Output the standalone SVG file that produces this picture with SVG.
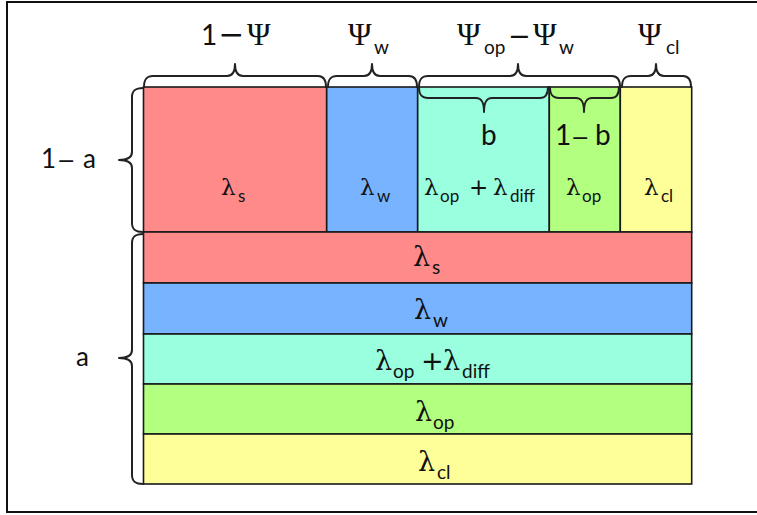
<svg xmlns="http://www.w3.org/2000/svg" width="757" height="515" viewBox="0 0 757 515">
<style>
.cell{stroke:#1a1a1a;stroke-width:1.6}
.red{fill:#FF8A8A}.blue{fill:#77B3FF}.teal{fill:#99FFDF}.green{fill:#B3FF80}.yellow{fill:#FFFF99}
.brace{fill:none;stroke:#222;stroke-width:2;stroke-linecap:round;stroke-linejoin:round}
.sym{font-family:"Liberation Serif","DejaVu Serif",serif;fill:#111}
.lm{font-family:"DejaVu Serif","Liberation Serif",serif;fill:#111}
.op{font-family:"DejaVu Sans","Liberation Sans",sans-serif;fill:#111}
.sans{font-family:Lato,"Liberation Sans",sans-serif;fill:#111}
.big{font-size:28px}.lam{font-size:23px}.lamb{font-size:27px}.psi{font-size:32px}.sub{font-size:19px}.subs{font-size:17px}
</style>
<rect x="7" y="2" width="760" height="510" fill="#fff" stroke="#111" stroke-width="2"/>

<g id="top-s"><rect class="cell red" x="143.5" y="87" width="183.2" height="145"/>
<text class="lm lam" x="221" y="195">λ</text><text class="sans subs" x="238" y="202">s</text></g>
<g id="top-w"><rect class="cell blue" x="326.7" y="87" width="91" height="145"/>
<text class="lm lam" x="360" y="195">λ</text><text class="sans subs" x="377" y="202">w</text></g>
<g id="top-op-diff"><rect class="cell teal" x="417.7" y="87" width="131.6" height="145"/>
<text class="sans big" x="481" y="145">b</text>
<text class="lm lam" x="424" y="195">λ</text><text class="sans subs" x="440" y="202">op</text>
<text class="op lam" x="469" y="195">+</text>
<text class="lm lam" x="493" y="195">λ</text><text class="sans subs" x="510" y="202">diff</text></g>
<g id="top-op"><rect class="cell green" x="549.3" y="87" width="71" height="145"/>
<text class="sans big" x="555" y="145">1</text><text class="op" x="571" y="145" font-size="22">−</text><text class="sans big" x="595" y="145">b</text>
<text class="lm lam" x="566" y="195">λ</text><text class="sans subs" x="582" y="202">op</text></g>
<g id="top-cl"><rect class="cell yellow" x="620.3" y="87" width="71.4" height="145"/>
<text class="lm lam" x="644" y="195">λ</text><text class="sans subs" x="661" y="202">cl</text></g>

<g id="row-s"><rect class="cell red" x="143.5" y="232" width="548.2" height="51"/>
<text class="lm lamb" x="413" y="266">λ</text><text class="sans sub" x="432" y="274">s</text></g>
<g id="row-w"><rect class="cell blue" x="143.5" y="283" width="548.2" height="51"/>
<text class="lm lamb" x="414" y="319">λ</text><text class="sans sub" x="433" y="327">w</text></g>
<g id="row-op-diff"><rect class="cell teal" x="143.5" y="334" width="548.2" height="50"/>
<text class="lm lamb" x="375" y="370">λ</text><text class="sans sub" x="393" y="378">op</text>
<text class="op lamb" x="421" y="370">+</text>
<text class="lm lamb" x="443" y="370">λ</text><text class="sans sub" x="462" y="378">diff</text></g>
<g id="row-op"><rect class="cell green" x="143.5" y="384" width="548.2" height="50"/>
<text class="lm lamb" x="415" y="421">λ</text><text class="sans sub" x="433" y="429">op</text></g>
<g id="row-cl"><rect class="cell yellow" x="143.5" y="434" width="548.2" height="50"/>
<text class="lm lamb" x="418" y="471">λ</text><text class="sans sub" x="437" y="479">cl</text></g>

<g id="labels">
<text class="sans big" x="201" y="45">1</text><text class="op" x="218.5" y="45" font-size="31">−</text><text class="sym psi" x="247" y="45">Ψ</text>
<text class="sym psi" x="348" y="45">Ψ</text><text class="sans sub" x="374" y="54">w</text>
<text class="sym psi" x="457" y="45">Ψ</text><text class="sans sub" x="484" y="54">op</text>
<text class="op" x="508" y="45" font-size="27">−</text>
<text class="sym psi" x="533" y="45">Ψ</text><text class="sans sub" x="559" y="54">w</text>
<text class="sym psi" x="638" y="45">Ψ</text><text class="sans sub" x="666" y="54">cl</text>
<text class="sans" x="41" y="168" font-size="26">1</text><text class="op" x="57" y="168" font-size="22">−</text><text class="sans" x="83" y="168" font-size="26">a</text>
<text class="sans" x="76" y="366" font-size="26">a</text>
</g>

<g id="braces">
<path class="brace" d="M144 87 C144 80 146 76 153 76 H227 C232 76 235 73 235 64 C235 73 238 76 243 76 H318 C324 76 326 80 326 87"/>
<path class="brace" d="M328 87 C328 80 330 76 337 76 H364 C369 76 372 73 372 64 C372 73 375 76 380 76 H409 C415 76 417 80 417 87"/>
<path class="brace" d="M419 87 C419 80 421 76 428 76 H510 C515 76 518 73 518 64 C518 73 521 76 526 76 H612 C618 76 620 80 620 87"/>
<path class="brace" d="M622 87 C622 80 624 76 631 76 H648 C653 76 656 73 656 64 C656 73 659 76 664 76 H683 C689 76 691 80 691 87"/>
<path class="brace" d="M419 87 C419 94 421 98 428 98 H476 C481 98 484 101 484 112 C484 101 487 98 492 98 H540 C546 98 548 94 548 87"/>
<path class="brace" d="M550 87 C550 94 552 98 559 98 H576 C581 98 584 101 584 112 C584 101 587 98 592 98 H611 C617 98 619 94 619 87"/>
<path class="brace" d="M143 88 C136 88 132 90 132 97 V152 C132 157 129 160 119 160 C129 160 132 163 132 168 V223 C132 230 136 232 143 232"/>
<path class="brace" d="M143 234 C136 234 132 236 132 243 V350 C132 355 129 358 119 358 C129 358 132 361 132 366 V475 C132 482 136 484 143 484"/>
</g>
</svg>
